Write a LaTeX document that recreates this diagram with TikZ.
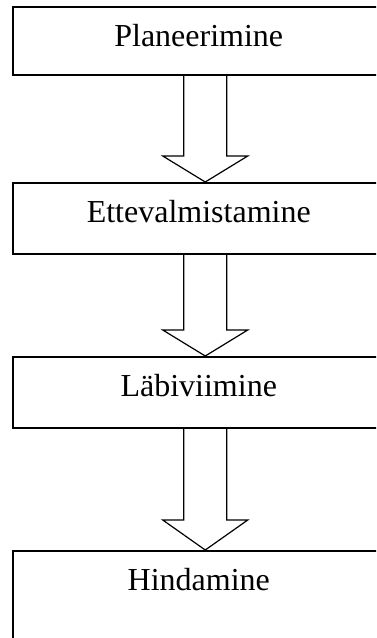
\documentclass[tikz,border=0pt]{standalone}
\usepackage{fontspec}
\setmainfont{Liberation Serif}
\usetikzlibrary{calc}

\begin{document}
\begin{tikzpicture}[x=1pt, y=-1pt,
  every node/.style = {shape=rectangle, draw, line width=1.5pt,
    anchor=north west, inner sep=0pt, minimum width=372pt,
    text height=39.5pt, font=\fontsize{32}{38}\selectfont},
  blockarrow/.style = {draw, line width=1.2pt, miter limit=20}]
  \useasboundingbox (0,0) rectangle (376,638);
  \clip (0,0) rectangle (376,638);
  \node [text depth=28.5pt] (plan) at (12,6) {Planeerimine};
  \node [text depth=31.5pt] (prep) at (12,182) {Ettevalmistamine};
  \node [text depth=31.5pt] (run) at (12,356) {Läbiviimine};
  \node [text depth=60pt] (eval) at (12,550) {Hindamine};
  \foreach \a/\b/\h in {plan/prep/26, prep/run/26, run/eval/30} {
    \coordinate (t) at ([xshift=6.5pt]\a.south);
    \coordinate (h) at ([xshift=6.5pt]\b.north);
    \draw [blockarrow] ($(t)+(-21.5,0)$) -- ($(h)+(-21.5,-\h)$)
      -- ($(h)+(-42.5,-\h)$) -- (h) -- ($(h)+(42.5,-\h)$)
      -- ($(h)+(21.5,-\h)$) -- ($(t)+(21.5,0)$);
  }
\end{tikzpicture}
\end{document}
